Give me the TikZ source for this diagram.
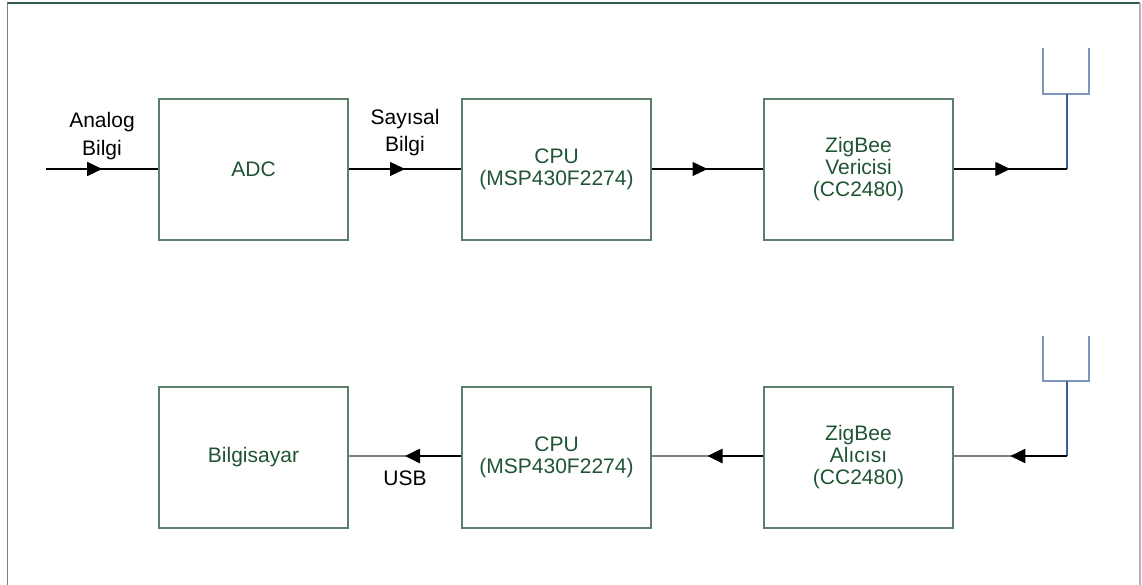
\documentclass[tikz,border=0pt]{standalone}
\usepackage{fontspec}
\setmainfont{Liberation Sans}
\usetikzlibrary{arrows.meta,decorations.markings,calc}
\definecolor{boxc}{HTML}{5E7F6A}
\definecolor{txtc}{HTML}{1F5434}
\definecolor{frametop}{HTML}{2E5B45}
\definecolor{frameleft}{HTML}{6E8C7E}
\definecolor{frameright}{HTML}{B4B4B4}
\definecolor{antfork}{HTML}{7F95BD}
\definecolor{antstem}{HTML}{3C5E9E}
\definecolor{greyline}{HTML}{808080}
\begin{document}
\begin{tikzpicture}[x=1pt,y=-1pt,
  box/.style={draw=boxc, line width=1.2pt, minimum width=189pt, minimum height=141pt,
    align=center, text=txtc, font=\fontsize{21}{22}\selectfont, inner sep=0pt},
  lbl/.style={align=center, anchor=north, inner sep=0pt, text=black},
  flow/.style={black, line width=1.3pt, postaction={decorate},
    decoration={markings, mark=at position 0.5 with {\arrow{Triangle[length=15pt,width=14pt]}}}},
  backgrey/.style={greyline, line width=2pt},
  backblack/.style={black, line width=2.6pt, -{Triangle[length=15pt,width=14pt]}},
  fork/.style={antfork, line width=1.3pt},
  stem/.style={antstem, line width=1.3pt}]
\useasboundingbox (0,0) rectangle (1142,585);
% frame
\draw[frametop, line width=1.6pt] (7,3) -- (1140,3);
\draw[frameleft, line width=1.6pt] (7.5,3) -- (7.5,585);
\draw[frameright, line width=1.3pt] (1140,3) -- (1140,585);
% top row
\node[box] (adc) at (253.5,169.5) {ADC};
\node[box] (cpu1) at (556.5,169.5) {CPU\\(MSP430F2274)};
\node[box] (zb1) at (858.5,169.5) {ZigBee\\Vericisi\\(CC2480)};
% bottom row
\node[box] (pc) at (253.5,457.5) {Bilgisayar};
\node[box] (cpu2) at (556.5,457.5) {CPU\\(MSP430F2274)};
\node[box] (zb2) at (858.5,457.5) {ZigBee\\Al\i c\i s\i\\(CC2480)};
% antennas
\draw[fork] (1043,48) -- (1043,94) -- (1089,94) -- (1089,48);
\coordinate (a1top) at (1067,94);
\coordinate (a1) at (1067,169);
\draw[stem] (a1top) -- (a1);
\draw[fork] (1043,336) -- (1043,381) -- (1089,381) -- (1089,336);
\coordinate (a2top) at (1067,381);
\coordinate (a2) at (1067,456);
\draw[stem] (a2top) -- (a2);
% input
\coordinate (in) at (46,169);
\draw[flow] (in) -- (adc.west |- in);
\draw[flow] (adc.east |- in) -- (cpu1.west |- in);
\draw[flow] (cpu1.east |- in) -- (zb1.west |- in);
\draw[flow] (zb1.east |- in) -- (a1);
% bottom flows
\coordinate (zb2e) at (zb2.east |- a2);
\draw[backgrey] (a2) -- (zb2e);
\draw[backblack] (a2) -- ($(a2)!0.5!(zb2e)$);
\coordinate (zb2w) at (zb2.west |- a2);
\coordinate (cpu2e) at (cpu2.east |- a2);
\draw[backgrey] (zb2w) -- (cpu2e);
\draw[backblack] (zb2w) -- ($(zb2w)!0.5!(cpu2e)$);
\coordinate (cpu2w) at (cpu2.west |- a2);
\coordinate (pce) at (pc.east |- a2);
\draw[backgrey] (cpu2w) -- (pce);
\draw[backblack] (cpu2w) -- ($(cpu2w)!0.5!(pce)$);
% labels
\node[lbl, font=\fontsize{21}{28.5}\selectfont] (lanalog) at (102,112) {Analog\\Bilgi};
\node[lbl, font=\fontsize{21}{26.5}\selectfont] (lsayisal) at (405,109.5) {Say\i sal\\Bilgi};
\node[lbl, font=\fontsize{21}{22}\selectfont] (lusb) at (405,471) {USB};
\end{tikzpicture}
\end{document}
